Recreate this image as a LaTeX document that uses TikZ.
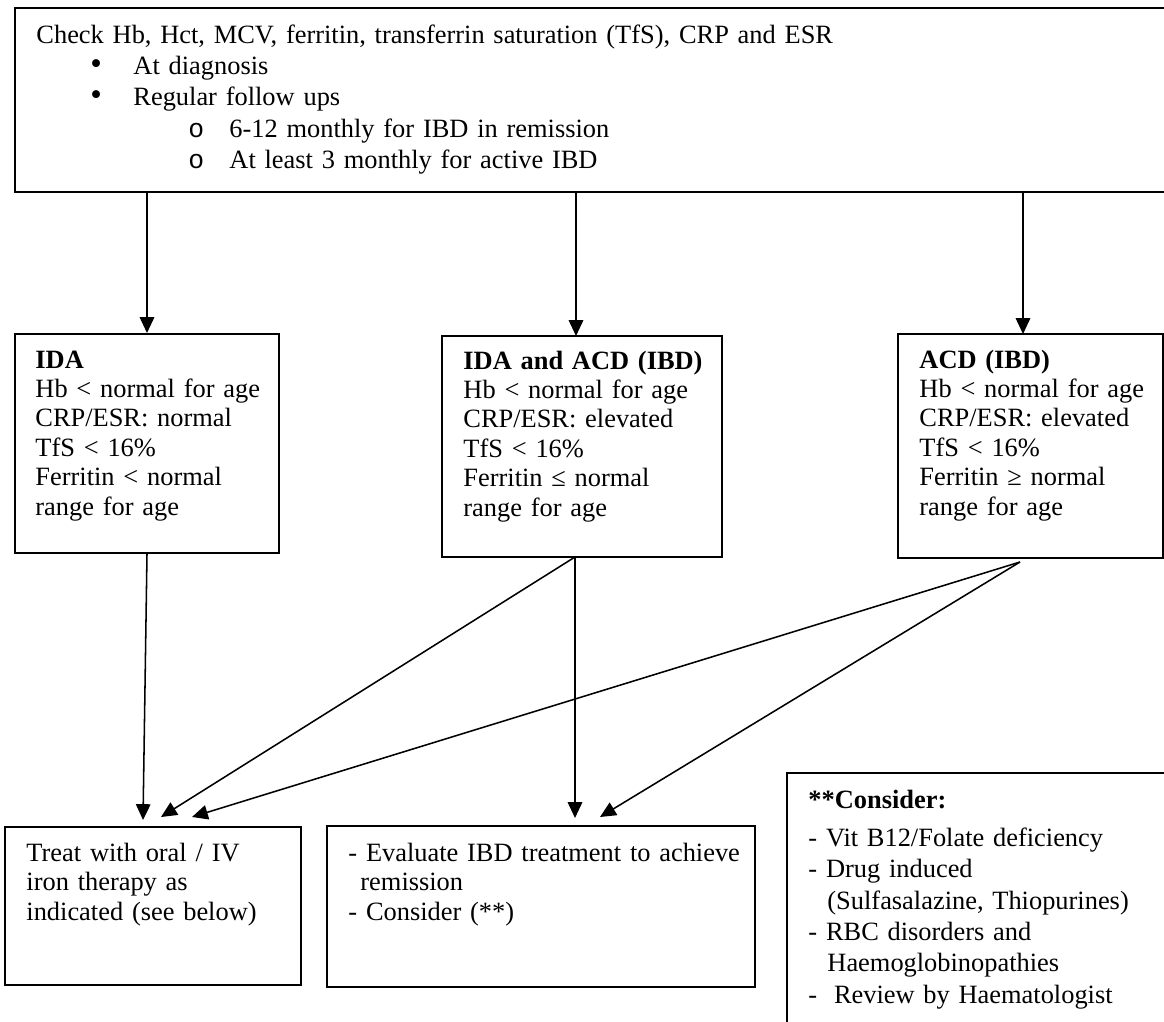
\documentclass[tikz,border=0pt]{standalone}
\usepackage{fontspec}
\setmainfont{Liberation Serif}
\newfontfamily\lvltwo{Liberation Mono}
\usetikzlibrary{arrows.meta,fit}
\newdimen\px
\px=0.4545pt
\newcommand{\blt}{{\fontsize{15}{15}\selectfont •}}

\begin{document}
\begin{tikzpicture}[x=0.4545pt,y=-0.4545pt,
    box/.style={draw,line width=0.9pt,inner sep=0pt},
    txt/.style={anchor=base west,inner sep=0pt,align=left,text width=450pt,
      font=\fontsize{12}{13.4}\selectfont},
    wide/.style={font=\fontsize{12}{14.3}\selectfont},
    mid/.style={font=\fontsize{12}{13.6}\selectfont},
    arr/.style={line width=0.7pt,-{Triangle[length=7.2pt,width=6.6pt]}}]
  \useasboundingbox (0,0) rectangle (1164,1021);
  \clip (0,0) rectangle (1164,1021);
  \begin{scope}
    % boxes
    \node[box,fit={(15,8) (1190,192)}] (check) {};
    \node[box,fit={(15,334) (279,553)}] (ida) {};
    \node[box,fit={(442,336) (722,557)}] (both) {};
    \node[box,fit={(898,334) (1163,558)}] (acd) {};
    \node[box,fit={(5,827) (301,985)}] (treat) {};
    \node[box,fit={(327,826) (755,987)}] (evaluate) {};
    \node[box,fit={(787,773) (1190,1040)}] (consider) {};

    % texts
    \node[txt,wide] (checktext) at (36,43) {Check Hb, Hct, MCV, ferritin, transferrin saturation (TfS), CRP and ESR\\
      \hspace*{54\px}\makebox[43\px][l]{\blt}At diagnosis\\
      \hspace*{54\px}\makebox[43\px][l]{\blt}Regular follow ups\\
      \hspace*{152\px}\makebox[41\px][l]{\lvltwo o}6-12 monthly for IBD in remission\\
      \hspace*{152\px}\makebox[41\px][l]{\lvltwo o}At least 3 monthly for active IBD};
    \node[txt] (idatext) at (35,368) {\textbf{IDA}\\Hb < normal for age\\CRP/ESR: normal\\
      TfS < 16\%\\Ferritin < normal\\range for age};
    \node[txt] (bothtext) at (463,369) {\textbf{IDA and ACD (IBD)}\\Hb < normal for age\\
      CRP/ESR: elevated\\TfS < 16\%\\Ferritin ≤ normal\\range for age};
    \node[txt] (acdtext) at (919,368) {\textbf{ACD (IBD)}\\Hb < normal for age\\
      CRP/ESR: elevated\\TfS < 16\%\\Ferritin ≥ normal\\range for age};
    \node[txt,mid] (treattext) at (26,861) {Treat with oral / IV\\iron therapy as\\indicated (see below)};
    \node[txt,mid] (evaltext) at (348,861) {- Evaluate IBD treatment to achieve\\
      \hspace*{12\px}remission\\- Consider (**)};
    \node[txt,wide] (considertext) at (808,808) {\textbf{**Consider:}\\[3pt]
      - Vit B12/Folate deficiency\\- Drug induced\\
      \hspace*{19\px}(Sulfasalazine, Thiopurines)\\- RBC disorders and\\
      \hspace*{19\px}Haemoglobinopathies\\-\hspace*{8\px} Review by Haematologist};

    % arrows
    \coordinate (in2) at (576,336);
    \coordinate (in3) at (1023,334);
    \foreach \t in {ida.north,in2,in3}
      \draw[arr] (check.south -| \t) -- (\t);

    \coordinate (out2) at (575,557);
    \coordinate (out3) at (1020,562);
    \coordinate (tip1) at (143,820);
    \coordinate (tip2) at (161,817);
    \coordinate (tip3) at (192,817);
    \coordinate (tip4) at (575,818);
    \coordinate (tip5) at (600,817);
    \draw[arr] (ida.south) -- (tip1);
    \draw (out2) edge[arr] (tip2) edge[arr] (tip4);
    \draw (out3) edge[arr] (tip3) edge[arr] (tip5);
  \end{scope}
\end{tikzpicture}
\end{document}
